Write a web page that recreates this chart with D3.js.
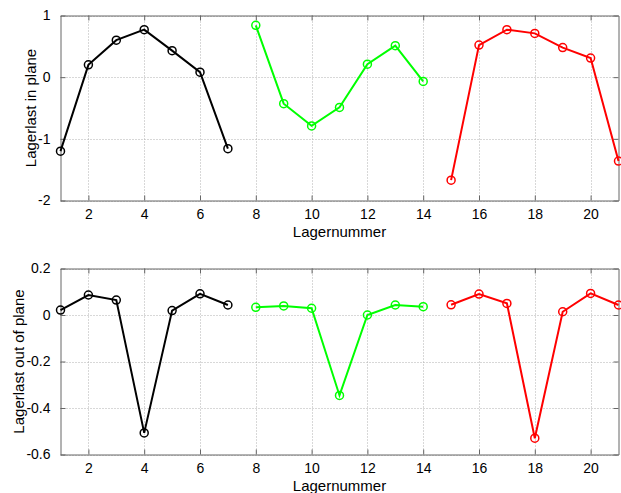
<!DOCTYPE html>
<html>
<head>
<meta charset="utf-8">
<script src="https://cdn.jsdelivr.net/npm/d3@7"></script>
<style>
  body { margin: 0; background: #fff; }
  svg { display: block; font-family: "Liberation Sans", Arial, sans-serif; }
  .grid line { stroke: #b0b0b0; stroke-dasharray: 1,2; stroke-width: 1; }
</style>
</head>
<body>
<div id="chart"></div>
<script>
// --- data ---
const groups = [
    { color: "#000000", x: [1, 2, 3, 4, 5, 6, 7] },
    { color: "#00ff00", x: [8, 9, 10, 11, 12, 13, 14] },
    { color: "#ff0000", x: [15, 16, 17, 18, 19, 20, 21] }
];

const inPlane = [
    [-1.20, 0.20, 0.60, 0.77, 0.43, 0.08, -1.16],
    [0.84, -0.43, -0.79, -0.49, 0.21, 0.51, -0.07],
    [-1.67, 0.52, 0.77, 0.71, 0.48, 0.31, -1.36]
];

const outOfPlane = [
    [0.021, 0.086, 0.064, -0.507, 0.019, 0.091, 0.043],
    [0.033, 0.039, 0.029, -0.346, 0.000, 0.043, 0.036],
    [0.044, 0.090, 0.050, -0.530, 0.014, 0.093, 0.043]
];

const xTicks = [2, 4, 6, 8, 10, 12, 14, 16, 18, 20];
const topTicks = [-2, -1, 0, 1];
const bottomTicks = [-0.6, -0.4, -0.2, 0, 0.2];

const width = 621, height = 493;
const svg = d3.select("#chart").append("svg")
    .attr("width", width)
    .attr("height", height);

function drawPanel(opts) {
    const { top, bottom, yDomain, yTicks, values, yLabel, yLabelX } = opts;
    const left = 60.5, right = 618.5;

    const x = d3.scaleLinear().domain([1, 21]).range([left, right]);
    const y = d3.scaleLinear().domain(yDomain).range([bottom, top]);

    const g = svg.append("g");

    // grid
    g.append("g").attr("class", "grid")
        .selectAll("line.v").data(xTicks).enter().append("line")
        .attr("x1", d => Math.round(x(d)) + 0.5).attr("x2", d => Math.round(x(d)) + 0.5)
        .attr("y1", top).attr("y2", bottom);
    g.append("g").attr("class", "grid")
        .selectAll("line.h").data(yTicks).enter().append("line")
        .attr("y1", d => Math.round(y(d)) + 0.5).attr("y2", d => Math.round(y(d)) + 0.5)
        .attr("x1", left).attr("x2", right);

    // axes, ticks inside (matlab style), plain hyphen for minus
    const fmt = d => String(+d.toFixed(1));
    const axB = g.append("g").attr("transform", `translate(0,${bottom})`)
        .call(d3.axisBottom(x).tickValues(xTicks).tickSizeInner(-5).tickSizeOuter(0).tickPadding(9).tickFormat(fmt));
    const axT = g.append("g").attr("transform", `translate(0,${top})`)
        .call(d3.axisTop(x).tickValues(xTicks).tickSizeInner(-5).tickSizeOuter(0).tickFormat(""));
    const axL = g.append("g").attr("transform", `translate(${left},0)`)
        .call(d3.axisLeft(y).tickValues(yTicks).tickSizeInner(-5).tickSizeOuter(0).tickPadding(10).tickFormat(fmt));
    const axR = g.append("g").attr("transform", `translate(${right},0)`)
        .call(d3.axisRight(y).tickValues(yTicks).tickSizeInner(-5).tickSizeOuter(0).tickFormat(""));

    [axB, axT, axL, axR].forEach(a => {
        a.attr("font-family", "Liberation Sans, Arial, sans-serif").attr("font-size", 14);
        a.select(".domain").attr("stroke", "#666").attr("stroke-width", 1);
        a.selectAll(".tick line").attr("stroke", "#666");
        a.selectAll("text").attr("fill", "#000");
    });

    // series
    const line = d3.line().x(d => x(d[0])).y(d => y(d[1]));
    groups.forEach((grp, i) => {
        const pts = grp.x.map((xv, j) => [xv, values[i][j]]);
        g.append("path")
            .attr("d", line(pts))
            .attr("fill", "none")
            .attr("stroke", grp.color)
            .attr("stroke-width", 2);
        g.selectAll(null).data(pts).enter().append("circle")
            .attr("cx", d => x(d[0])).attr("cy", d => y(d[1]))
            .attr("r", 4)
            .attr("fill", "none")
            .attr("stroke", grp.color)
            .attr("stroke-width", 1.5);
    });

    // labels
    g.append("text")
        .attr("x", (left + right) / 2)
        .attr("y", bottom + 36)
        .attr("text-anchor", "middle")
        .attr("font-size", 15)
        .text("Lagernummer");
    g.append("text")
        .attr("transform", `translate(${yLabelX},${(top + bottom) / 2}) rotate(-90)`)
        .attr("text-anchor", "middle")
        .attr("font-size", 15)
        .text(yLabel);
}

drawPanel({
    top: 15.5, bottom: 200.5,
    yDomain: [-2, 1], yTicks: topTicks,
    values: inPlane,
    yLabel: "Lagerlast in plane", yLabelX: 36
});

drawPanel({
    top: 268.5, bottom: 454.5,
    yDomain: [-0.6, 0.2], yTicks: bottomTicks,
    values: outOfPlane,
    yLabel: "Lagerlast out of plane", yLabelX: 24
});
</script>
</body>
</html>
